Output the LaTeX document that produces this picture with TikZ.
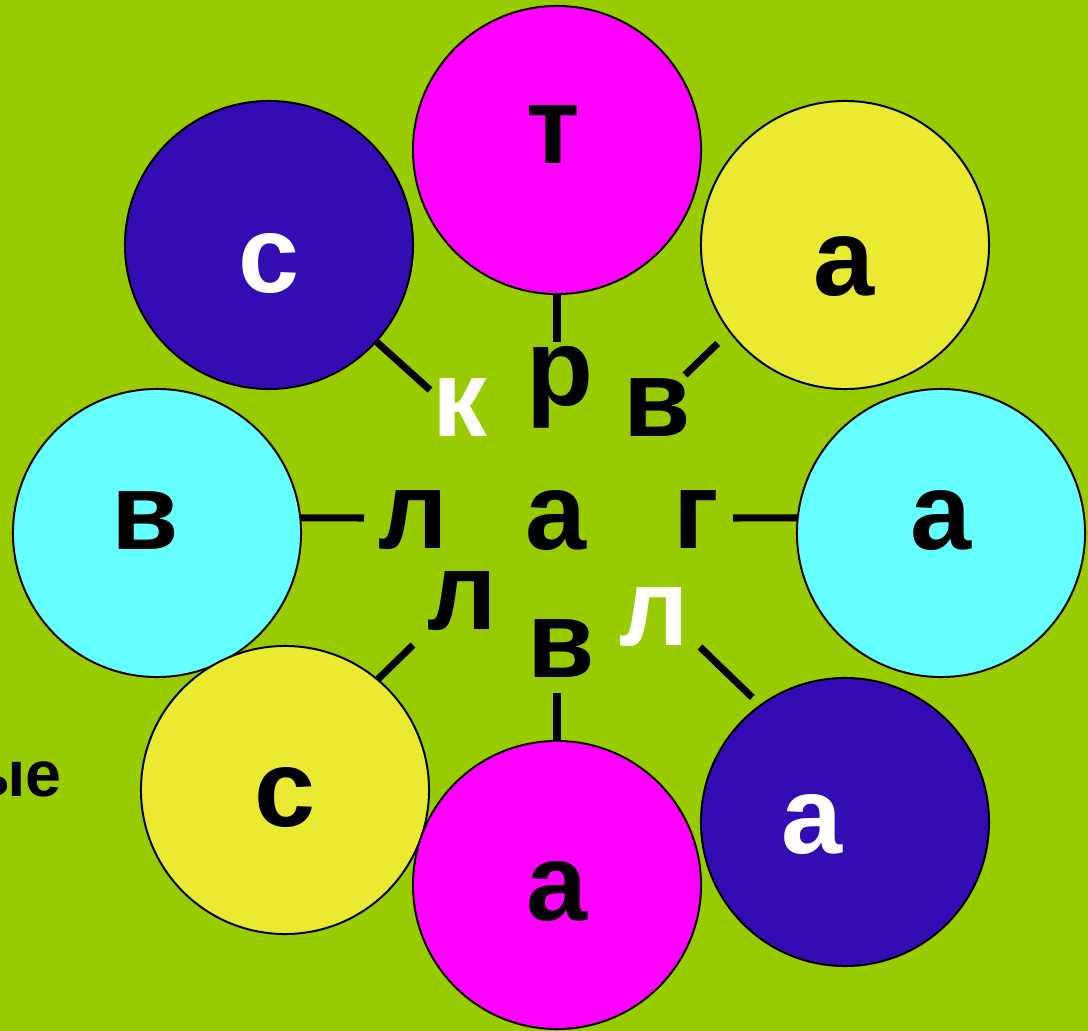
\documentclass[tikz,border=0pt]{standalone}
\usepackage{fontspec}
\setmainfont{Liberation Sans}
\usepackage{xcolor}
\usepackage{tikz}
\usetikzlibrary{calc,positioning,shapes}

\definecolor{leaf}{HTML}{99CC00}
\definecolor{rose}{HTML}{FF00FF}
\definecolor{navy}{RGB}{51,12,180}
\definecolor{lemon}{RGB}{234,234,51}
\definecolor{sky}{HTML}{66FFFF}

\begin{document}
\begin{tikzpicture}[x=0.025cm,y=-0.025cm]

\tikzset{ball/.style = {shape=circle,draw,line width=1.4pt,minimum size=7.2cm,inner sep=0pt}}
\tikzset{letter/.style = {anchor=base,inner sep=0pt,font=\fontsize{78}{80}\selectfont\bfseries}}
\tikzset{link/.style = {line width=5pt}}

% background
\fill[leaf] (0,0) rectangle (1088,1031);
\useasboundingbox (0,0) rectangle (1088,1031);

% circles
\node[ball,fill=sky] (cl) at (157,533) {};
\node[ball,fill=sky] (cr) at (941,533) {};
\node[ball,fill=rose] (ct) at (557,150) {};
\node[ball,fill=navy] (ctl) at (269,245) {};
\node[ball,fill=lemon] (ctr) at (845,245) {};
\node[ball,fill=lemon] (cbl) at (285,790) {};
\node[ball,fill=rose] (cb) at (557,885) {};
\node[ball,fill=navy] (cbr) at (845,822) {};

% letters in the circles
\node[letter] (lt) at (553,164) {т};
\node[letter,white] (ltl) at (269,293) {с};
\node[letter] (ltr) at (844,296) {а};
\node[letter] (ll) at (145,549) {в};
\node[letter] (lr) at (941,549) {а};
\node[letter] (lbl) at (285,826) {с};
\node[letter] (lb) at (557,920) {а};
\node[letter,white] (lbr) at (812,853) {а};

% letters in the middle
\node[letter] (mr) at (560,405) {р};
\node[letter,white] (mk) at (460,437) {к};
\node[letter] (mv) at (657,437) {в};
\node[letter] (ml) at (413,548) {л};
\node[letter] (ma) at (556,549) {а};
\node[letter] (mg) at (696,548) {г};
\node[letter] (mll) at (462,629) {л};
\node[letter] (mvv) at (561,677) {в};
\node[letter,white] (mlw) at (654,645) {л};

% text at the left edge
\node[anchor=base east,inner sep=0pt,font=\fontsize{46}{48}\selectfont\bfseries] (tail) at (62,796) {ые};

% free ends
\coordinate (rEnd) at (557,342);
\coordinate (kEnd) at (430,390);
\coordinate (vEnd) at (685,375);
\coordinate (lEnd) at (364,518);
\coordinate (gEnd) at (733,518);
\coordinate (llEnd) at (413,645);
\coordinate (lwEnd) at (700,647);
\coordinate (vvEnd) at (557,693);

%links
\draw[link] (ct.south) -- (rEnd);
\draw[link] (ctl) -- (kEnd);
\draw[link,shorten <=0.4cm] (ctr.-143.5) -- (vEnd);
\draw[link] (cl.6) -- (lEnd);
\draw[link] (cr.174) -- (gEnd);
\draw[link] (cbl.50) -- (llEnd);
\draw[link,shorten <=0.26cm] (cbr.126) -- (lwEnd);
\draw[link] (cb.north) -- (vvEnd);
\end{tikzpicture}
\end{document}
